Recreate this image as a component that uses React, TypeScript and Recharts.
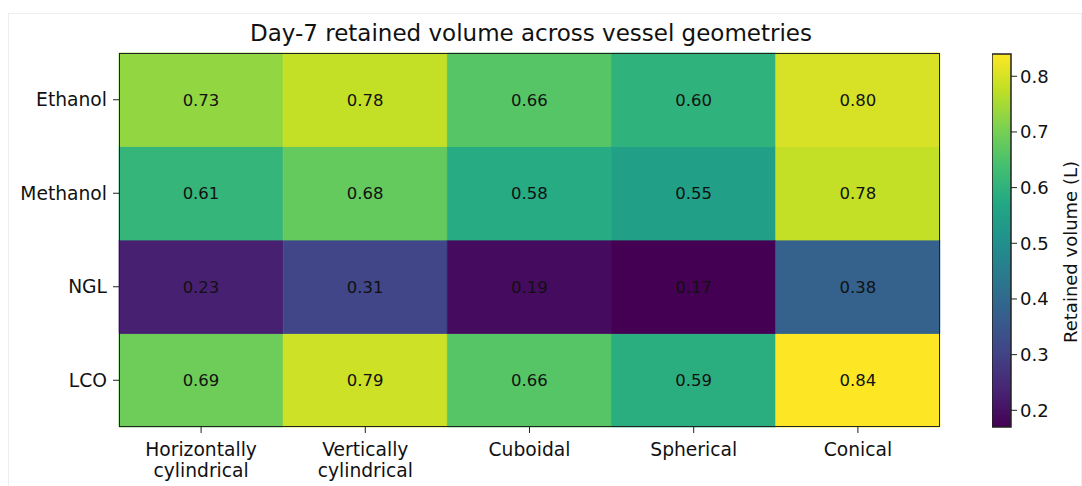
import React from "react";
import { BarChart, Bar, Cell, XAxis, YAxis, LabelList } from "recharts";

const rows = ["Ethanol", "Methanol", "NGL", "LCO"];
const geometries = ["Horizontally cylindrical", "Vertically cylindrical", "Cuboidal", "Spherical", "Conical"];

const ethanol = [0.73, 0.78, 0.66, 0.6, 0.8];
const methanol = [0.61, 0.68, 0.58, 0.55, 0.78];
const ngl = [0.23, 0.31, 0.19, 0.17, 0.38];
const lco = [0.69, 0.79, 0.66, 0.59, 0.84];

const colorbarTicks = [0.2, 0.3, 0.4, 0.5, 0.6, 0.7, 0.8];
const vmin = 0.17;
const vmax = 0.84;

const values: Record<string, number[]> = { Ethanol: ethanol, Methanol: methanol, NGL: ngl, LCO: lco };

const viridis = ["#440154", "#482475", "#414487", "#355f8d", "#2a788e", "#21918c", "#22a884", "#44bf70", "#7ad151", "#bddf26", "#fde725"];

function hexToRgb(h: string) {
    return [1, 3, 5].map(i => parseInt(h.slice(i, i + 2), 16));
}

function viridisColor(v: number) {
    let t = (v - vmin) / (vmax - vmin);
    t = Math.max(0, Math.min(1, t));
    const pos = t * (viridis.length - 1);
    const i = Math.min(Math.floor(pos), viridis.length - 2);
    const f = pos - i;
    const a = hexToRgb(viridis[i]);
    const b = hexToRgb(viridis[i + 1]);
    const c = a.map((x, k) => Math.round(x + (b[k] - x) * f));
    return `rgb(${c[0]},${c[1]},${c[2]})`;
}

// one unit-high stacked segment per row, bottom row first
const stackOrder = [...rows].reverse();
const tableData = geometries.map((g, ci) => {
    const entry: Record<string, any> = { name: g };
    rows.forEach(r => {
        entry[r] = 1;
        entry[r + "_v"] = values[r][ci];
    });
    return entry;
});

const font = "'DejaVu Sans', sans-serif";
const tickFont = 18.7;

const XTick = (props: any) => {
    const { x, y, payload } = props;
    const words: string[] = payload.value.split(" ");
    return (
        <text x={x} y={y} textAnchor="middle" fontFamily={font} fontSize={tickFont} fill="#111">
            {words.map((w, i) => (
                <tspan key={i} x={x} dy={i === 0 ? 21 : 21}>{w}</tspan>
            ))}
        </text>
    );
};

function CellLabel(row: string) {
    return (props: any) => {
        const { x, y, width, height, index } = props;
        const v = values[row][index];
        return (
            <text x={x + width / 2} y={y + height / 2} dy={6} textAnchor="middle" fontFamily={font} fontSize={16.5} fill="#111">
                {v.toFixed(2)}
            </text>
        );
    };
}

const colorbarData = [{ name: "cb", range: [vmin, vmax] }];

export default function App() {
    document.body.style.margin = "0";
    return (
        <div style={{ position: "relative", width: 1082, height: 486, background: "#fff", overflow: "hidden", fontFamily: font }}>
            <div style={{ position: "absolute", left: 8, top: 13, width: 1072, height: 520, borderLeft: "1px solid #eeeeee", borderTop: "1px solid #eeeeee", borderRight: "1px solid #eeeeee" }} />
            <div style={{ position: "absolute", left: 0, width: 1062, top: 18, textAlign: "center", fontSize: 23, color: "#111", lineHeight: "30px" }}>
                Day-7 retained volume across vessel geometries
            </div>
            <div style={{ position: "absolute", left: 0, top: 0 }}>
                <BarChart width={1082} height={486} data={tableData} barCategoryGap={0} margin={{ top: 53, right: 142, bottom: 0, left: 0 }}>
                    <XAxis dataKey="name" height={59} tick={<XTick />} tickSize={6} tickLine={{ stroke: "#222" }} axisLine={false} interval={0} />
                    <YAxis
                        type="number"
                        domain={[0, 4]}
                        ticks={[0.5, 1.5, 2.5, 3.5]}
                        width={119}
                        tickSize={6}
                        tickMargin={6}
                        tickLine={{ stroke: "#222" }}
                        axisLine={false}
                        tickFormatter={(v: number) => rows[3 - Math.floor(v)]}
                        tick={{ fontFamily: font, fontSize: tickFont, fill: "#111" }}
                    />
                    {stackOrder.map(r => (
                        <Bar key={r} dataKey={r} stackId="s" isAnimationActive={false}>
                            {tableData.map((d, i) => {
                                const c = viridisColor(d[r + "_v"]);
                                return <Cell key={i} fill={c} stroke={c} strokeWidth={0.8} />;
                            })}
                            <LabelList dataKey={r + "_v"} content={CellLabel(r)} />
                        </Bar>
                    ))}
                </BarChart>
            </div>
            <div style={{ position: "absolute", left: 119, top: 53, width: 819, height: 372, border: "1.5px solid #222", pointerEvents: "none" }} />
            <div style={{ position: "absolute", left: 992, top: 0 }}>
                <BarChart width={90} height={486} data={colorbarData} barCategoryGap={0} margin={{ top: 54, right: 0, bottom: 59, left: 0 }}>
                    <defs>
                        <linearGradient id="viridisGrad" x1="0" y1="1" x2="0" y2="0">
                            {viridis.map((c, i) => (
                                <stop key={i} offset={`${(i / (viridis.length - 1)) * 100}%`} stopColor={c} />
                            ))}
                        </linearGradient>
                    </defs>
                    <XAxis dataKey="name" hide />
                    <YAxis
                        orientation="right"
                        type="number"
                        domain={[vmin, vmax]}
                        ticks={colorbarTicks}
                        width={71}
                        tickSize={6}
                        tickMargin={3}
                        tickLine={{ stroke: "#222" }}
                        axisLine={false}
                        tickFormatter={(v: number) => v.toFixed(1)}
                        tick={{ fontFamily: font, fontSize: 18, fill: "#111", textAnchor: "start" }}
                    />
                    <Bar dataKey="range" fill="url(#viridisGrad)" stroke="#222" strokeWidth={1.5} isAnimationActive={false} />
                </BarChart>
            </div>
            <div style={{ position: "absolute", left: 1070, top: 252, width: 0, height: 0 }}>
                <div style={{ position: "absolute", transform: "translate(-50%, -50%) rotate(-90deg)", whiteSpace: "nowrap", fontSize: 18, color: "#111" }}>
                    Retained volume (L)
                </div>
            </div>
        </div>
    );
}
